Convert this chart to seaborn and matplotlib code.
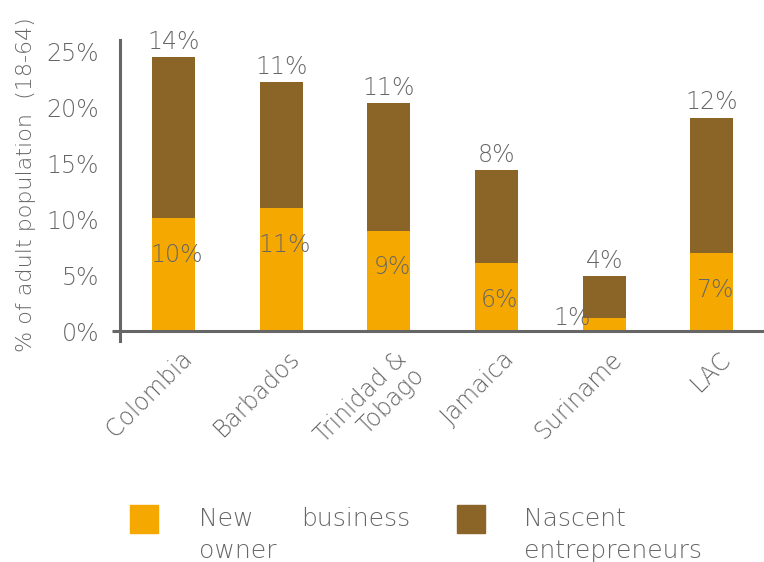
import matplotlib
matplotlib.use("Agg")
import matplotlib.pyplot as plt
import matplotlib.transforms as mtrans
from matplotlib.patches import Rectangle
import seaborn as sns
import pandas as pd

categories = ["Colombia", "Barbados", "Trinidad &\nTobago", "Jamaica", "Suriname", "LAC"]
new_owner = [10.1, 11.0, 9.0, 6.1, 1.2, 7.0]
nascent = [14.4, 11.3, 11.4, 8.3, 3.7, 12.1]
new_labels = ["10%", "11%", "9%", "6%", "1%", "7%"]
nascent_labels = ["14%", "11%", "11%", "8%", "4%", "12%"]
yticks = [0, 5, 10, 15, 20, 25]
ytick_labels = ["0%", "5%", "10%", "15%", "20%", "25%"]

ORANGE = "#F5A800"
BROWN = "#8B6428"
GREY = "#666666"
FS = 17
FW = "light"

sns.set_style("white")
plt.rcParams["font.family"] = ["DejaVu Sans"]

df = pd.DataFrame({"cat": categories, "new": new_owner, "nascent": nascent})
df["total"] = df["new"] + df["nascent"]

fig = plt.figure(figsize=(7.64, 5.62), dpi=100)
ax = fig.add_axes([0.157, 0.393, 0.845, 0.536])

sns.barplot(data=df, x="cat", y="total", color=BROWN, width=0.4, saturation=1,
            linewidth=0, ax=ax)
sns.barplot(data=df, x="cat", y="new", color=ORANGE, width=0.4, saturation=1,
            linewidth=0, ax=ax)

ax.set_ylim(-0.9, 26.07)
ax.set_xlim(-0.5, 5.5)
ax.set_yticks(yticks)
ax.set_yticklabels(ytick_labels, fontsize=FS, color=GREY, fontweight=FW)
ax.tick_params(axis="y", length=0, pad=15)
ax.tick_params(axis="x", length=0, pad=4)
ax.set_xlabel("")
ax.set_ylabel("% of adult population  (18-64)", fontsize=16, color=GREY,
              fontweight=FW, labelpad=6)
ax.yaxis.set_label_coords(-0.13, 0.52)

for s in ["top", "right"]:
    ax.spines[s].set_visible(False)
ax.spines["bottom"].set_position(("data", 0))
ax.spines["bottom"].set_color(GREY)
ax.spines["bottom"].set_linewidth(2.2)
ax.spines["left"].set_color(GREY)
ax.spines["left"].set_linewidth(2.2)
ax.plot([-0.012, 0], [0, 0], transform=ax.get_yaxis_transform(), color=GREY,
        lw=2.2, clip_on=False, solid_capstyle="butt")

offset = mtrans.ScaledTranslation(0.06, -0.1, fig.dpi_scale_trans)
ax.set_xticks(range(len(categories)))
ax.set_xticklabels(categories, rotation=45, ha="right", va="top",
                   rotation_mode="anchor", fontsize=FS, color=GREY,
                   fontweight=FW, linespacing=1.0)
for lbl in ax.get_xticklabels():
    lbl.set_transform(lbl.get_transform() + offset)

# value labels
for i in range(len(categories)):
    tot = new_owner[i] + nascent[i]
    ax.text(i, tot + 0.3, nascent_labels[i], ha="center", va="bottom",
            fontsize=FS, color=GREY, fontweight=FW)
    if i == 4:
        ax.text(i - 0.3, new_owner[i], new_labels[i], ha="center", va="center",
                fontsize=FS, color=GREY, fontweight=FW)
    else:
        ax.text(i + 0.03, new_owner[i] - 3.3, new_labels[i], ha="center",
                va="center", fontsize=FS, color=GREY, fontweight=FW)

# legend
LFS = 18
fig.patches.append(Rectangle((130 / 764, 1 - 533 / 562), 28 / 764, 28 / 562,
                             transform=fig.transFigure, color=ORANGE))
fig.patches.append(Rectangle((457 / 764, 1 - 533 / 562), 28 / 764, 28 / 562,
                             transform=fig.transFigure, color=BROWN))
fig.text(199 / 764, 1 - 519 / 562, "New", fontsize=LFS, color=GREY,
         fontweight=FW, va="center")
fig.text(301 / 764, 1 - 519 / 562, "business", fontsize=LFS, color=GREY,
         fontweight=FW, va="center")
fig.text(199 / 764, 1 - 551 / 562, "owner", fontsize=LFS, color=GREY,
         fontweight=FW, va="center")
fig.text(524 / 764, 1 - 519 / 562, "Nascent", fontsize=LFS, color=GREY,
         fontweight=FW, va="center")
fig.text(524 / 764, 1 - 551 / 562, "entrepreneurs", fontsize=LFS, color=GREY,
         fontweight=FW, va="center")

fig.savefig("out.png", dpi=100)
